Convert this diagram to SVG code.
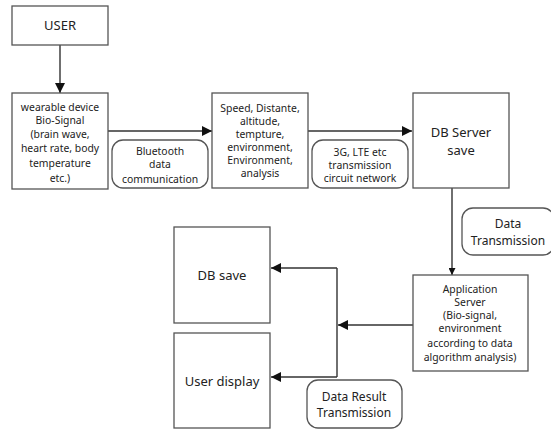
<svg xmlns="http://www.w3.org/2000/svg" width="551" height="430" viewBox="0 0 551 430">
<style>
.box{fill:#fff;stroke:#555;stroke-width:1.3}
.lbl{fill:#fff;stroke:#555;stroke-width:1.3}
.t{font-family:"Noto Sans","Open Sans",sans-serif;font-size:10.4px;fill:#222;text-anchor:middle}
.tl{font-family:"Noto Sans","Open Sans",sans-serif;font-size:13px;fill:#222;text-anchor:middle}
.tm{font-family:"Noto Sans","Open Sans",sans-serif;font-size:12px;fill:#222;text-anchor:middle}
.c{fill:none;stroke:#333;stroke-width:1.4}
</style>
<defs>
<marker id="ah" viewBox="0 0 10 10" refX="10" refY="5" markerWidth="7" markerHeight="7" markerUnits="userSpaceOnUse" orient="auto"><path d="M0,0 L10,5 L0,10 z" fill="#111"/></marker>
<marker id="ahb" viewBox="0 0 10 10" refX="10" refY="5" markerWidth="10" markerHeight="10" markerUnits="userSpaceOnUse" orient="auto"><path d="M0,0 L10,5 L0,10 z" fill="#111"/></marker>
</defs>
<g id="connectors">
<line class="c" x1="60" y1="45" x2="60" y2="93" marker-end="url(#ahb)"/>
<line class="c" x1="108" y1="131" x2="212" y2="131" marker-end="url(#ahb)"/>
<line class="c" x1="308" y1="131" x2="412" y2="131" marker-end="url(#ahb)"/>
<line class="c" x1="452" y1="188" x2="452" y2="275" marker-end="url(#ah)"/>
<line class="c" x1="413" y1="325" x2="338" y2="325" marker-end="url(#ahb)"/>
<polyline class="c" points="337,268 337,377"/>
<line class="c" x1="337" y1="268" x2="271" y2="268" marker-end="url(#ahb)"/>
<line class="c" x1="337" y1="377" x2="271" y2="377" marker-end="url(#ahb)"/>
</g>
<g id="user">
<rect class="box" x="12" y="6" width="96" height="39"/>
<text class="tl" x="60" y="30">USER</text>
</g>
<g id="wearable">
<rect class="box" x="12" y="93" width="96" height="96"/>
<text class="t" x="60" y="111">wearable device</text>
<text class="t" x="60" y="124">Bio-Signal</text>
<text class="t" x="60" y="138">(brain wave,</text>
<text class="t" x="60" y="152">heart rate, body</text>
<text class="t" x="60" y="167">temperature</text>
<text class="t" x="60" y="182">etc.)</text>
</g>
<g id="bluetooth">
<rect class="lbl" x="112" y="140" width="96" height="48" rx="11"/>
<text class="t" x="160" y="155">Bluetooth</text>
<text class="t" x="160" y="168">data</text>
<text class="t" x="160" y="183">communication</text>
</g>
<g id="speed">
<rect class="box" x="212" y="93" width="96" height="95"/>
<text class="t" x="260" y="112">Speed, Distante,</text>
<text class="t" x="260" y="125">altitude,</text>
<text class="t" x="260" y="138">tempture,</text>
<text class="t" x="260" y="151">environment,</text>
<text class="t" x="260" y="164">Environment,</text>
<text class="t" x="260" y="177">analysis</text>
</g>
<g id="network">
<rect class="lbl" x="312" y="140" width="96" height="48" rx="11"/>
<text class="t" x="360" y="156">3G, LTE etc</text>
<text class="t" x="360" y="169">transmission</text>
<text class="t" x="360" y="182">circuit network</text>
</g>
<g id="dbserver">
<rect class="box" x="413" y="93" width="96" height="95"/>
<text class="tl" x="461" y="137">DB Server</text>
<text class="tl" x="461" y="155">save</text>
</g>
<g id="datatrans">
<rect class="lbl" x="462" y="208" width="92" height="47" rx="11"/>
<text class="tm" x="508" y="228">Data</text>
<text class="tm" x="508" y="245">Transmission</text>
</g>
<g id="appserver">
<rect class="box" x="413" y="275" width="115" height="96"/>
<text class="t" x="470" y="293">Application</text>
<text class="t" x="470" y="306">Server</text>
<text class="t" x="470" y="319">(Bio-signal,</text>
<text class="t" x="470" y="332">environment</text>
<text class="t" x="470" y="347">according to data</text>
<text class="t" x="470" y="361">algorithm analysis)</text>
</g>
<g id="dbsave">
<rect class="box" x="174" y="227" width="96" height="96"/>
<text class="tl" x="222" y="280">DB save</text>
</g>
<g id="userdisplay">
<rect class="box" x="174" y="333" width="96" height="95"/>
<text class="tl" x="222" y="386">User display</text>
</g>
<g id="dataresult">
<rect class="lbl" x="307" y="380" width="95" height="48" rx="11"/>
<text class="tm" x="354" y="401">Data Result</text>
<text class="tm" x="354" y="417">Transmission</text>
</g>
</svg>
